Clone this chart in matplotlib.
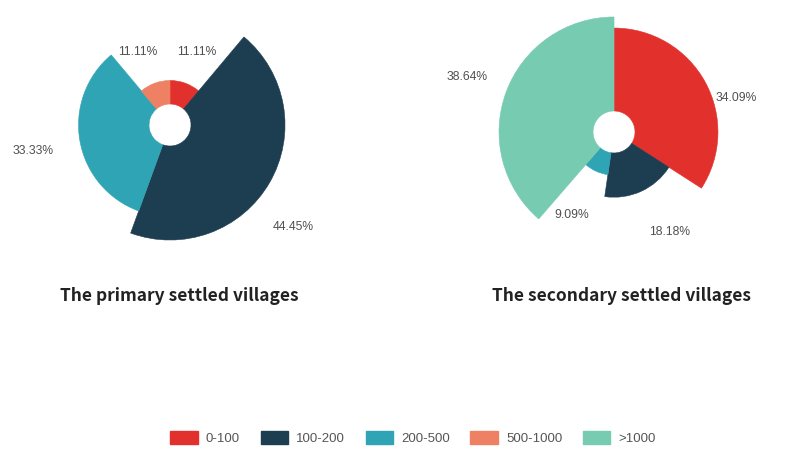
import numpy as np
import matplotlib
matplotlib.use("Agg")
from matplotlib import pyplot as plt
from matplotlib.patches import Patch

# data
categories = ["0-100", "100-200", "200-500", "500-1000", ">1000"]
primary = [11.11, 44.45, 33.33, 11.11, 0]
secondary = [34.09, 18.18, 9.09, 0, 38.64]
titles = ["The primary settled villages", "The secondary settled villages"]

colors = ["#e2312d", "#1d3d50", "#2fa4b4", "#ee8063", "#76cbb1"]

# small label nudges (points) to mimic the original label layout
primary_nudge = [(-2, -6), (-9, -17), (-4, -2), (-2, -6), (0, 0)]
secondary_nudge = [(-4, -26), (8, -2), (-5, -4), (0, 0), (0, 0)]

plt.rcParams['font.family'] = ['Liberation Sans', 'DejaVu Sans']

fig = plt.figure(figsize=(7.86, 4.5), dpi=100)

r0 = 21      # hole radius
rmax = 115   # radius for largest value
rlim = 170
label_pad = 42


def rose(ax, values, nudge):
    vals = np.array(values, dtype=float)
    frac = vals / vals.sum()
    widths = frac * 2 * np.pi
    starts = np.concatenate([[0], np.cumsum(widths)[:-1]])
    heights = (rmax - r0) * vals / vals.max()
    ax.set_theta_zero_location("N")
    ax.set_theta_direction(-1)
    for i, v in enumerate(vals):
        if v <= 0:
            continue
        ax.bar(starts[i], heights[i], width=widths[i], bottom=r0, align="edge",
               color=colors[i], edgecolor=colors[i], linewidth=0.4)
        mid = starts[i] + widths[i] / 2
        ax.annotate("%.2f%%" % v, xy=(mid, r0 + heights[i] + label_pad),
                    xytext=nudge[i], textcoords="offset points",
                    ha="center", va="center", fontsize=8.7, color="#505050",
                    annotation_clip=False)
    ax.set_ylim(0, rlim)
    ax.set_axis_off()


ax1 = fig.add_axes([0.0, 0.3444, 0.4326, 0.7556], projection="polar")
rose(ax1, primary, primary_nudge)
ax2 = fig.add_axes([0.5649, 0.3289, 0.4326, 0.7556], projection="polar")
rose(ax2, secondary, secondary_nudge)

fig.text(179 / 786, 1 - 296 / 450, titles[0], ha="center", va="center",
         fontsize=12.5, fontweight="bold", color="#222222",
         family=['Noto Sans CJK SC', 'DejaVu Sans'])
fig.text(622 / 786, 1 - 296 / 450, titles[1], ha="center", va="center",
         fontsize=12.5, fontweight="bold", color="#222222",
         family=['Noto Sans CJK SC', 'DejaVu Sans'])

handles = [Patch(facecolor=c, edgecolor=c) for c in colors]
fig.legend(handles, categories, loc="center", bbox_to_anchor=(413 / 786, 1 - 438 / 450),
           ncol=5, frameon=False, fontsize=9.5, handlelength=2.1, handleheight=1.15,
           handletextpad=0.6, columnspacing=1.55, labelcolor="#555555")

plt.savefig("out.png", dpi=100)
